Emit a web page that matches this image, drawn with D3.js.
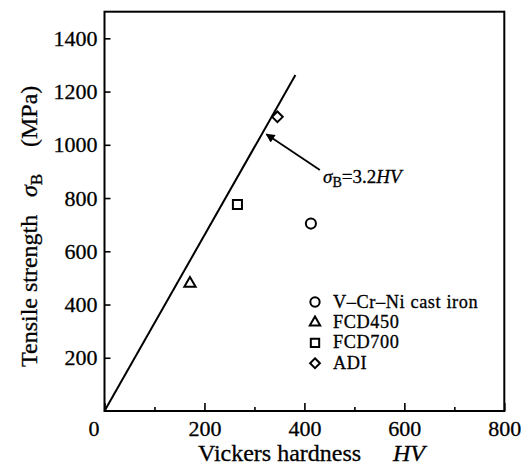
<!DOCTYPE html>
<html><head><meta charset="utf-8">
<script src="https://cdn.jsdelivr.net/npm/d3@7"></script>
<style>body{margin:0;background:#fff} text{stroke:#000;stroke-width:0.3px}</style>
</head><body><svg id="c" width="529" height="468"></svg>
<script>
// Data
const materials = ["V\u2013Cr\u2013Ni cast iron", "FCD450", "FCD700", "ADI"];
const symbols = ["circle", "triangle", "square", "diamond"];
const hardnessHV = [413, 171, 266, 346];
const tensileMPa = [704, 479, 776, 1105];
const fitLineHV = [0, 382];
const fitLineMPa = [0, 1262];
const xTicks = [0, 200, 400, 600, 800];
const xMinorTicks = [100, 300, 500, 700];
const yTicks = [200, 400, 600, 800, 1000, 1200, 1400];
const arrowFromHV = [431, 905];
const arrowToHV = [324, 1040];

const FONT = "'Liberation Serif', 'Times New Roman', Tinos, Times, 'DejaVu Serif', 'Noto Serif', serif";
const svg = d3.select("#c").attr("font-family", FONT);
const x = d3.scaleLinear().domain([0, 800]).range([104.5, 504.3]);
const y = d3.scaleLinear().domain([0, 1500]).range([411, 11.7]);

// frame
svg.append("rect").attr("x", x(0)).attr("y", y(1500)).attr("width", x(800) - x(0)).attr("height", y(0) - y(1500))
  .attr("fill", "none").attr("stroke", "#000").attr("stroke-width", 2);

// x axis
const gx = svg.append("g").attr("transform", `translate(0,${y(0)})`)
  .call(d3.axisBottom(x).tickValues(xTicks).tickSizeInner(-8).tickSizeOuter(0).tickPadding(9).tickFormat(d3.format("d")));
gx.attr("font-family", FONT);
gx.select(".domain").remove();
gx.selectAll("line").attr("stroke-width", 1.6);
gx.selectAll("text").attr("font-size", 22).attr("dx", d => d === 0 ? -11 : 0);
const gxm = svg.append("g").attr("transform", `translate(0,${y(0)})`)
  .call(d3.axisBottom(x).tickValues(xMinorTicks).tickSizeInner(-4).tickSizeOuter(0).tickFormat(""));
gxm.select(".domain").remove();
gxm.selectAll("line").attr("stroke-width", 1.6);

// y axis
const gy = svg.append("g").attr("transform", `translate(${x(0)},0)`)
  .call(d3.axisLeft(y).tickValues(yTicks).tickSizeInner(-6).tickSizeOuter(0).tickPadding(7).tickFormat(d3.format("d")));
gy.attr("font-family", FONT);
gy.select(".domain").remove();
gy.selectAll("line").attr("stroke-width", 1.6);
gy.selectAll("text").attr("font-size", 22);

// fit line
svg.append("path").datum(fitLineHV.map((h, i) => [h, fitLineMPa[i]]))
  .attr("d", d3.line().x(d => x(d[0])).y(d => y(d[1])))
  .attr("fill", "none").attr("stroke", "#000").attr("stroke-width", 2);

// symbols
function symPath(type, s) {
  const map = {circle: [d3.symbolCircle, 80], triangle: [d3.symbolTriangle, 55], square: [d3.symbolSquare, 82], diamond: [d3.symbolDiamond2, 72]};
  const m = map[type];
  return d3.symbol().type(m[0]).size(m[1] * s)();
}
svg.append("g").selectAll("path").data(materials).join("path")
  .attr("transform", (d, i) => `translate(${x(hardnessHV[i])},${y(tensileMPa[i])})`)
  .attr("d", (d, i) => symPath(symbols[i], 1))
  .attr("fill", "none").attr("stroke", "#000").attr("stroke-width", 2);

// annotation arrow
svg.append("defs").append("marker").attr("id", "ah").attr("viewBox", "0 0 10 10").attr("refX", 9).attr("refY", 5)
  .attr("markerWidth", 13).attr("markerHeight", 9).attr("markerUnits", "userSpaceOnUse").attr("orient", "auto")
  .append("path").attr("d", "M0,0 L10,5 L0,10 Z").attr("fill", "#000");
svg.append("line").attr("x1", x(arrowFromHV[0])).attr("y1", y(arrowFromHV[1]))
  .attr("x2", x(arrowToHV[0])).attr("y2", y(arrowToHV[1]))
  .attr("stroke", "#000").attr("stroke-width", 1.8).attr("marker-end", "url(#ah)");
const at = svg.append("text").attr("x", 323).attr("y", 183).attr("font-size", 19);
at.append("tspan").attr("font-style", "italic").text("\u03c3");
at.append("tspan").attr("font-size", 14).attr("dy", 4).text("B");
at.append("tspan").attr("dy", -4).text("=3.2");
at.append("tspan").attr("font-style", "italic").text("HV");

// legend
const lg = svg.append("g").selectAll("g").data(materials).join("g")
  .attr("transform", (d, i) => `translate(315,${302 + i * 20.4})`);
lg.append("path").attr("d", (d, i) => symPath(symbols[i], 0.85)).attr("fill", "none").attr("stroke", "#000").attr("stroke-width", 2);
lg.append("text").attr("x", 18).attr("y", 5.5).attr("font-size", 18.3).attr("letter-spacing", 0.6).text(d => d);

// axis titles
const xt = svg.append("text").attr("x", 198).attr("y", 461).attr("font-size", 24);
xt.append("tspan").text("Vickers hardness");
xt.append("tspan").attr("x", 393).attr("font-style", "italic").text("HV");

const yt = svg.append("text").attr("transform", "translate(37,367) rotate(-90)").attr("font-size", 24);
yt.append("tspan").text("Tensile strength");
yt.append("tspan").attr("x", 170).attr("font-style", "italic").text("\u03c3");
yt.append("tspan").attr("font-size", 17).attr("dy", 5).text("B");
yt.append("tspan").attr("x", 220).attr("dy", -5).text("(MPa)");
</script></body></html>
